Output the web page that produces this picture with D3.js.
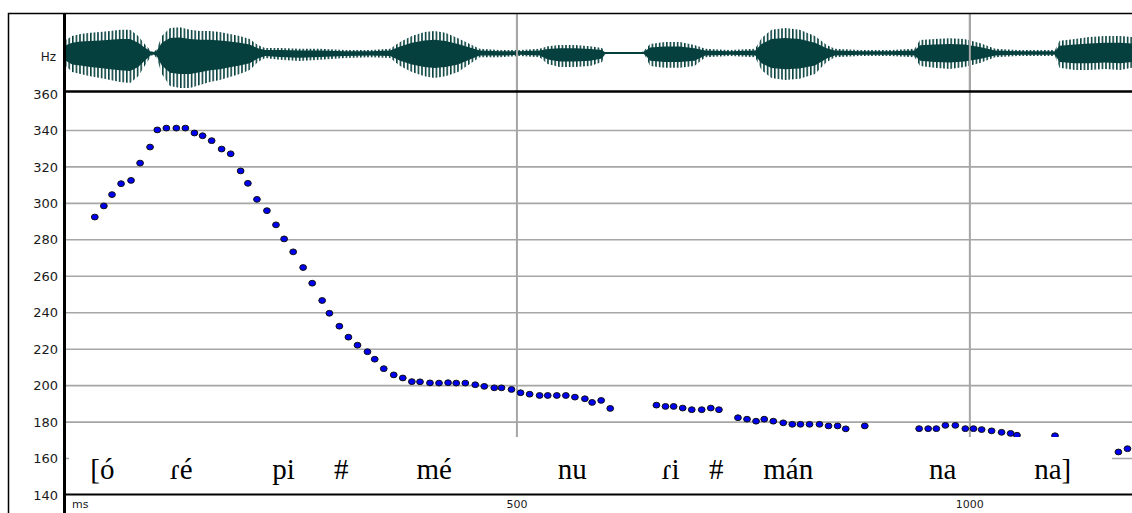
<!DOCTYPE html>
<html>
<head>
<meta charset="utf-8">
<script src="https://cdn.jsdelivr.net/npm/d3@7"></script>
<style>
  html, body { margin: 0; padding: 0; background: #fff; }
  svg { display: block; }
  .tick-label { font-family: "DejaVu Sans", Arial, sans-serif; font-size: 13px; fill: #1a1a1a; }
  .syll { font-family: "Liberation Serif", "Times New Roman", serif; font-size: 29px; fill: #000; }
</style>
</head>
<body>
<svg id="chart" width="1132" height="513"></svg>
<script>
// F0 track (time in ms, pitch in Hz)
const f0Times = [
  34, 44, 53, 63, 74, 84, 95, 103, 113, 124, 134, 144, 153, 163, 174, 184, 195, 203, 213, 224,
  234, 243, 253, 264, 274, 285, 293, 304, 314, 324, 335, 343, 353, 364, 374, 384, 393, 404, 414, 424,
  433, 443, 454, 464, 475, 483, 494, 504, 514, 525, 534, 544, 554, 564, 575, 583, 593, 603,
  654, 664, 673, 683, 693, 704, 714, 723,
  744, 754, 764, 773, 783, 794, 804, 813, 823, 834, 844, 854, 863, 884,
  944, 954, 963, 973, 984, 995, 1004, 1013, 1024, 1035, 1045, 1052, 1094,
  1164, 1174
];
const f0Values = [
  292.5, 298.6, 304.8, 310.8, 312.6, 322.1, 330.9, 340.3, 341.3, 341.3, 341.3, 338.6, 337.1, 334.4, 329.8, 327.2, 317.8, 311.0, 302.2, 296.0,
  288.2, 280.5, 273.4, 264.8, 256.2, 246.7, 239.7, 232.6, 226.6, 222.2, 218.6, 214.5, 209.3, 205.9, 204.2, 202.2, 202.1, 201.5, 201.4, 201.6,
  201.4, 201.4, 200.5, 199.6, 198.8, 198.8, 197.9, 196.1, 195.3, 194.6, 194.6, 194.6, 194.6, 193.7, 192.8, 190.8, 191.9, 187.5,
  189.3, 188.6, 188.6, 187.7, 186.8, 186.8, 187.7, 186.8,
  182.4, 181.6, 180.5, 181.6, 180.5, 179.6, 178.8, 178.8, 178.8, 178.8, 177.9, 177.9, 176.3, 177.9,
  176.4, 176.4, 176.4, 178.2, 178.2, 176.4, 176.4, 175.9, 175.2, 174.4, 173.8, 172.8, 172.5,
  163.6, 165.4
];

// Waveform envelope (time in ms, positive and negative peak amplitude, full scale = 1)
const waveTimes = [
  2, 9, 18, 29, 40, 51, 62, 73, 82, 89, 97, 102, 108, 117, 128, 139, 150, 161, 172, 183,
  194, 205, 214, 222, 238, 260, 283, 310, 338, 360, 371, 384, 398, 409, 421, 435, 448, 459, 481, 503,
  525, 534, 547, 564, 581, 594, 598, 636, 641, 647, 663, 680, 696, 708, 735, 763, 770, 781, 796, 812,
  829, 842, 851, 879, 912, 939, 945, 961, 978, 994, 1011, 1028, 1055, 1094, 1099, 1116, 1132, 1149, 1166, 1179
];
const waveUpper = [
  0.34, 0.45, 0.50, 0.53, 0.55, 0.58, 0.61, 0.61, 0.45, 0.24, 0.03, 0.08, 0.45, 0.66, 0.68, 0.61, 0.58, 0.58, 0.55, 0.50,
  0.45, 0.37, 0.21, 0.13, 0.13, 0.11, 0.11, 0.08, 0.08, 0.11, 0.29, 0.45, 0.55, 0.58, 0.53, 0.39, 0.24, 0.11, 0.08, 0.08,
  0.11, 0.18, 0.21, 0.21, 0.18, 0.13, 0.00, 0.00, 0.08, 0.24, 0.29, 0.29, 0.21, 0.11, 0.08, 0.11, 0.39, 0.61, 0.66, 0.61,
  0.45, 0.21, 0.11, 0.08, 0.08, 0.11, 0.34, 0.37, 0.39, 0.37, 0.26, 0.11, 0.08, 0.08, 0.32, 0.37, 0.42, 0.45, 0.45, 0.42
];
const waveLower = [
  -0.34, -0.50, -0.55, -0.61, -0.66, -0.71, -0.76, -0.79, -0.61, -0.34, -0.05, -0.11, -0.55, -0.87, -0.92, -0.92, -0.84, -0.76, -0.71, -0.63,
  -0.55, -0.45, -0.24, -0.13, -0.18, -0.21, -0.18, -0.13, -0.11, -0.13, -0.34, -0.50, -0.61, -0.66, -0.61, -0.50, -0.29, -0.11, -0.11, -0.08,
  -0.11, -0.29, -0.37, -0.37, -0.34, -0.24, 0.00, 0.00, -0.05, -0.34, -0.39, -0.39, -0.34, -0.11, -0.08, -0.11, -0.45, -0.66, -0.71, -0.68,
  -0.55, -0.24, -0.11, -0.08, -0.08, -0.11, -0.34, -0.39, -0.42, -0.37, -0.26, -0.11, -0.08, -0.08, -0.39, -0.45, -0.45, -0.42, -0.45, -0.39
];

// Axis ticks
const hzTicks = [140, 160, 180, 200, 220, 240, 260, 280, 300, 320, 340, 360];
const msTicks = [500, 1000];

// Syllable transcription and onset times (ms)
const syllables = ["[ó", "ɾé", "pi", "#", "mé", "nu", "ɾi", "#", "mán", "na", "na]"];
const syllableTimes = [29, 117, 230, 298, 389, 545, 660, 712, 772, 955, 1071];

const svg = d3.select("#chart");
const WAVE = "#06403e";

const x = d3.scaleLinear().domain([0, 1179]).range([64, 1132]);
const y = d3.scaleLinear().domain([140, 360]).range([495, 94]);
const yWave = d3.scaleLinear().domain([-1, 1]).range([91, 15]);

// Comb pattern for the outer part of the waveform (individual pulses)
const defs = svg.append("defs");
const pat = defs.append("pattern")
  .attr("id", "pulses")
  .attr("patternUnits", "userSpaceOnUse")
  .attr("width", 3.6).attr("height", 100);
pat.append("rect").attr("width", 3.6).attr("height", 100).attr("fill", "#fff");
pat.append("rect").attr("width", 1.6).attr("height", 100).attr("fill", WAVE);

// Horizontal pitch grid
svg.append("g")
  .selectAll("line")
  .data(hzTicks.filter(d => d > 140 && d < 360))
  .join("line")
  .attr("x1", 66).attr("x2", 1132)
  .attr("y1", d => y(d)).attr("y2", d => y(d))
  .attr("stroke", "#a6a6a6").attr("stroke-width", 1.6);

// Vertical time grid through both panels
svg.append("g")
  .selectAll("line")
  .data(msTicks)
  .join("line")
  .attr("x1", d => x(d)).attr("x2", d => x(d))
  .attr("y1", 14).attr("y2", 494)
  .attr("stroke", "#a6a6a6").attr("stroke-width", 2);

// Waveform: pulse comb out to the peak envelope, solid body inside it
const waveData = waveTimes.map((t, i) => ({ t, hi: waveUpper[i], lo: waveLower[i] }));
const waveG = svg.append("g");
waveG.append("path")
  .datum(waveData)
  .attr("d", d3.area().x(d => x(d.t)).y0(d => yWave(d.lo)).y1(d => yWave(d.hi)))
  .attr("fill", "url(#pulses)");
waveG.append("path")
  .datum(waveData)
  .attr("d", d3.area().x(d => x(d.t)).y0(d => yWave(d.lo * 0.6)).y1(d => yWave(d.hi * 0.6)))
  .attr("fill", WAVE);
waveG.append("line")
  .attr("x1", 66).attr("x2", 1132)
  .attr("y1", yWave(0)).attr("y2", yWave(0))
  .attr("stroke", WAVE).attr("stroke-width", 2);
// the 500/1000 ms grid lines stay visible across the waveform
waveG.selectAll(".vg")
  .data(msTicks)
  .join("line")
  .attr("class", "vg")
  .attr("x1", d => x(d)).attr("x2", d => x(d))
  .attr("y1", 14).attr("y2", 90)
  .attr("stroke", "#a6a6a6").attr("stroke-width", 2);

// F0 points
const f0Data = f0Times.map((t, i) => ({ t, v: f0Values[i] }));
svg.append("g")
  .selectAll("ellipse")
  .data(f0Data)
  .join("ellipse")
  .attr("cx", d => x(d.t)).attr("cy", d => y(d.v))
  .attr("rx", 3.4).attr("ry", 2.9)
  .attr("fill", "#0000f0").attr("stroke", "#111").attr("stroke-width", 1);

// Transcription band over the lower part of the plot
svg.append("rect")
  .attr("x", 69).attr("y", 437).attr("width", 1043).attr("height", 57)
  .attr("fill", "#fff");
svg.append("g")
  .selectAll("text")
  .data(syllables)
  .join("text")
  .attr("class", "syll")
  .attr("x", (d, i) => x(syllableTimes[i]))
  .attr("y", 479)
  .text(d => d);

// Frame and axes
svg.append("path")
  .attr("d", "M8.5,513 V13.5 H1132")
  .attr("fill", "none").attr("stroke", "#000").attr("stroke-width", 1.5);
svg.append("line")
  .attr("x1", 64.5).attr("x2", 64.5).attr("y1", 13).attr("y2", 513)
  .attr("stroke", "#000").attr("stroke-width", 3);
svg.append("line")
  .attr("x1", 64).attr("x2", 1132).attr("y1", 91.5).attr("y2", 91.5)
  .attr("stroke", "#000").attr("stroke-width", 2.5);
svg.append("line")
  .attr("x1", 64).attr("x2", 1132).attr("y1", 494.5).attr("y2", 494.5)
  .attr("stroke", "#000").attr("stroke-width", 2);

// Pitch axis labels
svg.append("g")
  .selectAll("text")
  .data(hzTicks)
  .join("text")
  .attr("class", "tick-label")
  .attr("x", 58).attr("y", d => y(d))
  .attr("dy", "0.36em")
  .attr("text-anchor", "end")
  .text(d => d);
svg.append("text")
  .attr("class", "tick-label")
  .attr("x", 56).attr("y", 61)
  .attr("text-anchor", "end")
  .style("font-size", "12px")
  .text("Hz");

// Time axis labels
svg.append("text")
  .attr("class", "tick-label")
  .attr("x", 72).attr("y", 508)
  .style("font-size", "11px")
  .text("ms");
svg.append("g")
  .selectAll("text")
  .data(msTicks)
  .join("text")
  .attr("class", "tick-label")
  .attr("x", d => x(d)).attr("y", 508)
  .attr("text-anchor", "middle")
  .style("font-size", "11px")
  .text(d => d);
</script>
</body>
</html>
